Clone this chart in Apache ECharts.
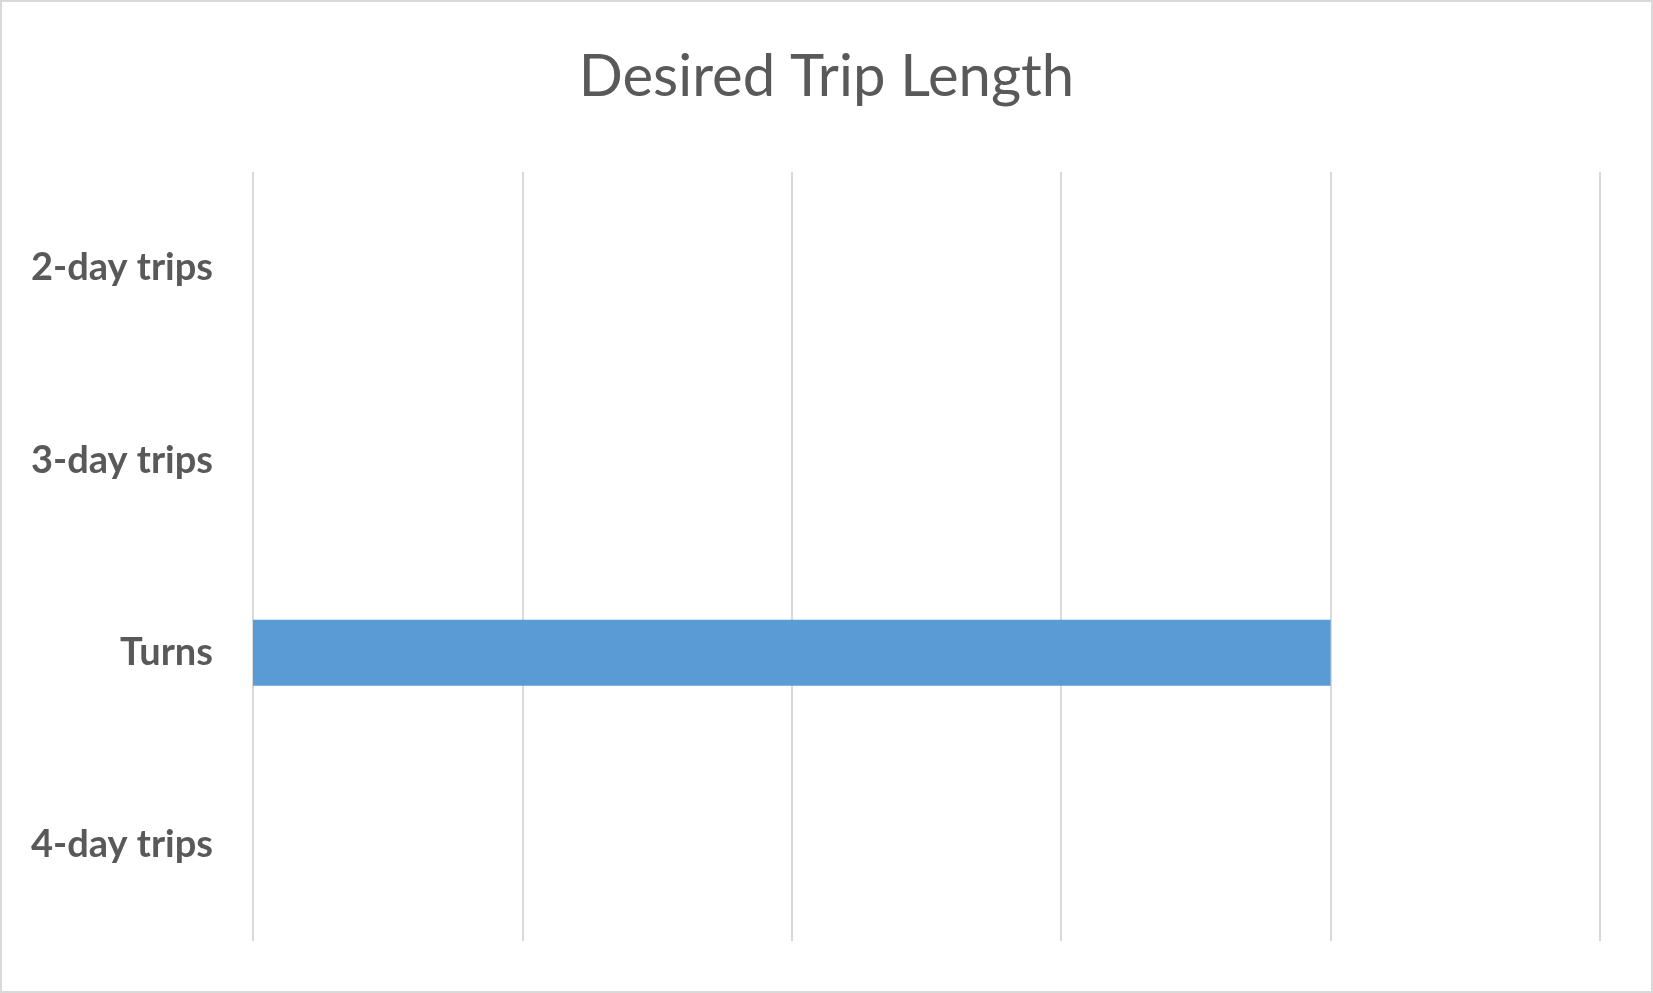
<!DOCTYPE html>
<html><head><meta charset="utf-8">
<script src="https://cdn.jsdelivr.net/npm/echarts@6/dist/echarts.min.js"></script>
<style>html,body{margin:0;padding:0;background:#fff}#c{width:1653px;height:993px;box-sizing:border-box;border:2px solid #d9d9d9}</style>
</head><body><div id="c"></div>
<script>
const titleText = 'Desired Trip Length';
const categories = ['2-day trips', '3-day trips', 'Turns', '4-day trips'];
const values = [0, 0, 4, 0];
const axisMin = 0, axisMax = 5, axisInterval = 1;

const chart = echarts.init(document.getElementById('c'), null, {renderer: 'canvas'});
chart.setOption({
  animation: false,
  title: {
    text: titleText, left: 'center', top: 41,
    textStyle: {fontFamily: 'Lato', fontWeight: 'normal', fontSize: 58, color: '#595959'}
  },
  grid: {left: 251, right: 51, top: 170, bottom: 50, containLabel: false},
  xAxis: {
    type: 'value', min: axisMin, max: axisMax, interval: axisInterval,
    axisLabel: {show: false}, axisLine: {show: false}, axisTick: {show: false},
    splitLine: {show: true, lineStyle: {color: '#d9d9d9', width: 2}}
  },
  yAxis: {
    type: 'category', data: categories, inverse: true,
    axisLine: {show: false}, axisTick: {show: false},
    axisLabel: {margin: 40, fontFamily: 'Lato', fontWeight: 'bold', fontSize: 38, color: '#595959'}
  },
  series: [{
    type: 'bar', data: values, barWidth: 66,
    itemStyle: {color: '#5b9bd5'}
  }]
});
</script></body></html>
